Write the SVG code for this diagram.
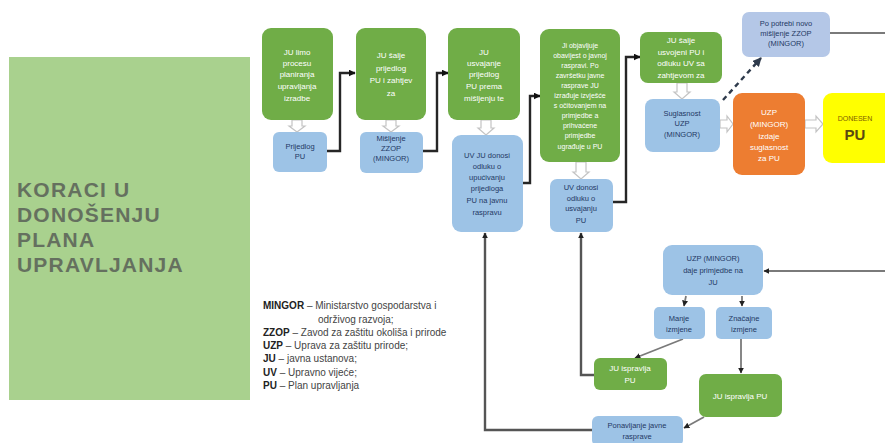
<svg xmlns="http://www.w3.org/2000/svg" width="885" height="443" viewBox="0 0 885 443">
<defs>
<style>
text{font-family:"Liberation Sans",Arial,sans-serif;}
.g{fill:#70ad47;}
.b{fill:#9dc3e6;}
.wt{fill:#ffffff;font-size:8px;text-anchor:middle;}
.bt{fill:#1f3864;font-size:7.5px;text-anchor:middle;}
.hol{fill:#ffffff;stroke:#c4c4c4;stroke-width:1.2;}
.cb{fill:none;stroke:#262626;stroke-width:2.4;}
.cg{fill:none;stroke:#7a7a7a;stroke-width:1.8;}
.cd{fill:none;stroke:#555555;stroke-width:2.4;}
.lg{font-size:10px;fill:#444444;}
.lg tspan.k{font-weight:bold;fill:#222222;}
</style>
<marker id="ah" viewBox="0 0 10 10" refX="9" refY="5" markerWidth="7" markerHeight="7" markerUnits="userSpaceOnUse" orient="auto">
<path d="M0,0 L10,5 L0,10 Z" fill="#111111"/>
</marker>
<marker id="ag" viewBox="0 0 10 10" refX="9" refY="5" markerWidth="6" markerHeight="6" markerUnits="userSpaceOnUse" orient="auto">
<path d="M0,0 L10,5 L0,10 Z" fill="#222222"/>
</marker>
<marker id="ad" viewBox="0 0 10 10" refX="9" refY="5" markerWidth="9" markerHeight="9" markerUnits="userSpaceOnUse" orient="auto">
<path d="M0,0 L10,5 L0,10 Z" fill="#2f3b4c"/>
</marker>
</defs>
<rect width="885" height="443" fill="#ffffff"/>

<g id="title-panel">
<rect x="9" y="57" width="241" height="343" fill="#a9d18e"/>
<text font-size="21" font-weight="bold" fill="#65705f" letter-spacing="1.2">
<tspan x="17" y="197">KORACI U</tspan>
<tspan x="17" y="222">DONOŠENJU</tspan>
<tspan x="17" y="247">PLANA</tspan>
<tspan x="17" y="272">UPRAVLJANJA</tspan>
</text>
</g>

<g id="legend">
<text class="lg"><tspan class="k" x="263" y="309">MINGOR</tspan><tspan> – Ministarstvo gospodarstva i</tspan></text>
<text class="lg" x="318" y="323">održivog razvoja;</text>
<text class="lg"><tspan class="k" x="263" y="336">ZZOP</tspan><tspan> – Zavod za zaštitu okoliša i prirode</tspan></text>
<text class="lg"><tspan class="k" x="263" y="349">UZP</tspan><tspan> – Uprava za zaštitu prirode;</tspan></text>
<text class="lg"><tspan class="k" x="263" y="362">JU</tspan><tspan> –  javna ustanova;</tspan></text>
<text class="lg"><tspan class="k" x="263" y="376">UV</tspan><tspan> – Upravno vijeće;</tspan></text>
<text class="lg"><tspan class="k" x="263" y="389">PU</tspan><tspan> – Plan upravljanja</tspan></text>
</g>

<g id="connectors">
<path class="cb" d="M327,151 H340 V73 H355" marker-end="url(#ah)"/>
<path class="cb" d="M423,151 H437 V73 H448" marker-end="url(#ah)"/>
<path class="cb" d="M523,183 H530 V96 H540" marker-end="url(#ah)"/>
<path class="cb" d="M613,202 H626 V57 H640" marker-end="url(#ah)"/>
<path d="M723,100 L761,58" fill="none" stroke="#2f3b4c" stroke-width="2.4" stroke-dasharray="5,4" marker-end="url(#ad)"/>
<path class="cg" d="M885,271 H764" marker-end="url(#ag)"/>
<path class="cg" d="M830,33 H885"/>
<path class="cg" d="M686,296 L684,306" marker-end="url(#ag)"/>
<path class="cg" d="M742,296 V306" marker-end="url(#ag)"/>
<path class="cg" d="M683,339 L635,358" marker-end="url(#ag)"/>
<path class="cg" d="M741,339 V373" marker-end="url(#ag)"/>
<path class="cg" d="M704,417 L684,428" marker-end="url(#ag)"/>
<path class="cd" d="M594,375 H581 V233" marker-end="url(#ag)"/>
<path class="cd" d="M592,430 H485 V233" marker-end="url(#ag)"/>
<path class="hol" d="M292,120 H302 V126 H305 L297,132 L289,126 H292 Z"/>
<path class="hol" d="M386,120 H396 V126 H399 L391,132 L383,126 H386 Z"/>
<path class="hol" d="M481,120 H491 V128 H494 L486,135 L478,128 H481 Z"/>
<path class="hol" d="M576,162 H586 V172 H589 L581,179 L573,172 H576 Z"/>
<path class="hol" d="M677,83 H687 V92 H690 L682,99 L674,92 H677 Z"/>
<path class="hol" d="M720,120 H727 V116 L733,124 L727,132 V128 H720 Z"/>
<path class="hol" d="M805,120 H816 V116 L823,124 L816,132 V128 H805 Z"/>
</g>

<g id="n1">
<rect class="g" x="262" y="28" width="71" height="92" rx="9"/>
<text class="wt"><tspan x="297" y="55">JU limo</tspan><tspan x="297" y="66">procesu</tspan><tspan x="297" y="77">planiranja</tspan><tspan x="297" y="89">upravljanja</tspan><tspan x="297" y="101">izradbe</tspan></text>
</g>
<g id="n1b">
<rect class="b" x="273" y="132" width="54" height="40" rx="6"/>
<text class="bt"><tspan x="300" y="149">Prijedlog</tspan><tspan x="300" y="159">PU</tspan></text>
</g>
<g id="n2">
<rect class="g" x="356" y="28" width="70" height="92" rx="9"/>
<text class="wt"><tspan x="391" y="58">JU šalje</tspan><tspan x="391" y="71">prijedlog</tspan><tspan x="391" y="83">PU i zahtjev</tspan><tspan x="391" y="96">za</tspan></text>
</g>
<g id="n2b">
<rect class="b" x="360" y="132" width="63" height="41" rx="6"/>
<text class="bt"><tspan x="391" y="141">Mišljenje</tspan><tspan x="391" y="151">ZZOP</tspan><tspan x="391" y="161">(MINGOR)</tspan></text>
</g>
<g id="n3">
<rect class="g" x="448" y="28" width="72" height="92" rx="9"/>
<text class="wt"><tspan x="484" y="55">JU</tspan><tspan x="484" y="66">usvajanje</tspan><tspan x="484" y="77">prijedlog</tspan><tspan x="484" y="89">PU prema</tspan><tspan x="484" y="101">mišljenju te</tspan></text>
</g>
<g id="n3b">
<rect class="b" x="452" y="135" width="71" height="97" rx="9"/>
<text class="bt"><tspan x="487" y="158">UV JU donosi</tspan><tspan x="487" y="169">odluku o</tspan><tspan x="487" y="180">upućivanju</tspan><tspan x="487" y="191">prijedloga</tspan><tspan x="487" y="203">PU na javnu</tspan><tspan x="487" y="215">raspravu</tspan></text>
</g>
<g id="n4">
<rect class="g" x="540" y="29" width="80" height="133" rx="9"/>
<text class="wt" font-size="7"><tspan x="580" y="48" font-size="7">Ji objavljuje</tspan><tspan x="580" y="58" font-size="7">obavijest o javnoj</tspan><tspan x="580" y="68" font-size="7">raspravi. Po</tspan><tspan x="580" y="78" font-size="7">završetku javne</tspan><tspan x="580" y="88" font-size="7">rasprave JU</tspan><tspan x="580" y="98" font-size="7">izrađuje izvješće</tspan><tspan x="580" y="108" font-size="7">s očitovanjem na</tspan><tspan x="580" y="118" font-size="7">primjedbe a</tspan><tspan x="580" y="128" font-size="7">prihvaćene</tspan><tspan x="580" y="138" font-size="7">primjedbe</tspan><tspan x="580" y="149" font-size="7">ugrađuje u PU</tspan></text>
</g>
<g id="n4b">
<rect class="b" x="550" y="179" width="63" height="53" rx="7"/>
<text class="bt"><tspan x="581" y="190">UV donosi</tspan><tspan x="581" y="201">odluku o</tspan><tspan x="581" y="211">usvajanju</tspan><tspan x="581" y="223">PU</tspan></text>
</g>
<g id="n5">
<rect class="g" x="640" y="32" width="82" height="51" rx="8"/>
<text class="wt"><tspan x="681" y="43">JU šalje</tspan><tspan x="681" y="55">usvojeni PU i</tspan><tspan x="681" y="66">odluku UV sa</tspan><tspan x="681" y="78">zahtjevom za</tspan></text>
</g>
<g id="n5b">
<rect class="b" x="645" y="99" width="75" height="53" rx="8"/>
<text class="bt" font-size="7"><tspan x="682" y="116">Suglasnost</tspan><tspan x="682" y="126">UZP</tspan><tspan x="682" y="137">(MINGOR)</tspan></text>
</g>
<g id="n6">
<rect x="742" y="12" width="88" height="45" rx="7" fill="#b4c7e7"/>
<text class="bt" font-size="7"><tspan x="786" y="26">Po potrebi novo</tspan><tspan x="786" y="36">mišljenje ZZOP</tspan><tspan x="786" y="46">(MINGOR)</tspan></text>
</g>
<g id="n7">
<rect x="733" y="93" width="72" height="82" rx="9" fill="#ed7d31"/>
<text class="wt" fill="#fff2cc" font-size="7.5"><tspan x="769" y="115">UZP</tspan><tspan x="769" y="127">(MINGOR)</tspan><tspan x="769" y="139">izdaje</tspan><tspan x="769" y="150">suglasnost</tspan><tspan x="769" y="161">za PU</tspan></text>
</g>
<g id="n8">
<rect x="823" y="93" width="70" height="70" rx="9" fill="#ffff00"/>
<text x="855" y="121" font-size="7" fill="#7f6000" text-anchor="middle">DONESEN</text>
<text x="855" y="140" font-size="15" font-weight="bold" fill="#5a4a10" text-anchor="middle">PU</text>
</g>
<g id="n9">
<rect class="b" x="663" y="245" width="100" height="50" rx="9"/>
<text class="bt"><tspan x="713" y="261">UZP (MINGOR)</tspan><tspan x="713" y="273">daje primjedbe na</tspan><tspan x="713" y="285">JU</tspan></text>
</g>
<g id="n10">
<rect class="b" x="654" y="307" width="51" height="32" rx="5"/>
<text class="bt"><tspan x="679" y="321">Manje</tspan><tspan x="679" y="332">izmjene</tspan></text>
</g>
<g id="n11">
<rect class="b" x="716" y="307" width="56" height="32" rx="5"/>
<text class="bt"><tspan x="744" y="321">Značajne</tspan><tspan x="744" y="332">izmjene</tspan></text>
</g>
<g id="n12">
<rect class="g" x="594" y="358" width="73" height="32" rx="6"/>
<text class="wt" font-size="7.5"><tspan x="630" y="371">JU ispravlja</tspan><tspan x="630" y="383">PU</tspan></text>
</g>
<g id="n13">
<rect class="g" x="699" y="374" width="83" height="43" rx="7"/>
<text class="wt" font-size="7.5" x="740" y="399">JU ispravlja PU</text>
</g>
<g id="n14">
<rect class="b" x="592" y="416" width="91" height="30" rx="6"/>
<text class="bt"><tspan x="637" y="428">Ponavljanje javne</tspan><tspan x="637" y="439">rasprave</tspan></text>
</g>
</svg>
